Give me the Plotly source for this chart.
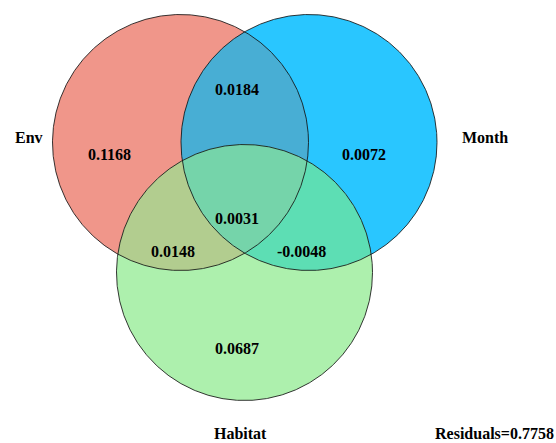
import numpy as np
import plotly.graph_objects as go

# Variance partitioning among three explanatory sets
set_names = ["Env", "Month", "Habitat"]
unique_fractions = [0.1168, 0.0072, 0.0687]
pair_sets = [("Env", "Month"), ("Env", "Habitat"), ("Month", "Habitat")]
shared_fractions = [0.0184, 0.0148, -0.0048]
common_fraction = 0.0031
residual_fraction = 0.7758

# Geometry of the diagram (pixel-like coordinates, y grows downward)
R = 128.0
centers = {"Env": (180.5, 142.5), "Month": (309.0, 142.5), "Habitat": (244.5, 272.5)}
set_colors = {"Env": "#F0968A", "Month": "#29C6FF", "Habitat": "#ADF0AD"}
pair_colors = {("Env", "Month"): "#48AED4", ("Env", "Habitat"): "#B2CD8F",
               ("Month", "Habitat"): "#5DDEB4"}
common_color = "#75D4AA"

set_label_pos = {"Env": (29, 137), "Month": (485, 137), "Habitat": (240, 433)}
unique_pos = {"Env": (109, 154), "Month": (364, 154), "Habitat": (237, 348)}
pair_pos = {("Env", "Month"): (237, 89), ("Env", "Habitat"): (173, 251),
            ("Month", "Habitat"): (301, 251)}
common_pos = (237, 218)


def circle_xy(name, n=720):
    cx, cy = centers[name]
    t = np.linspace(0, 2 * np.pi, n)
    return cx + R * np.cos(t), cy + R * np.sin(t)


def intersection_xy(names, n=4000):
    """Outline of the (convex) intersection of several circles."""
    pts = []
    t = np.linspace(0, 2 * np.pi, n, endpoint=False)
    for nm in names:
        cx, cy = centers[nm]
        x = cx + R * np.cos(t)
        y = cy + R * np.sin(t)
        keep = np.ones_like(x, dtype=bool)
        for other in names:
            if other == nm:
                continue
            ox, oy = centers[other]
            keep &= (x - ox) ** 2 + (y - oy) ** 2 <= R ** 2 + 1e-6
        pts.append(np.column_stack([x[keep], y[keep]]))
    pts = np.vstack(pts)
    c = pts.mean(axis=0)
    order = np.argsort(np.arctan2(pts[:, 1] - c[1], pts[:, 0] - c[0]))
    pts = pts[order]
    pts = np.vstack([pts, pts[:1]])
    return pts[:, 0], pts[:, 1]


fig = go.Figure()

# Filled areas: whole sets, then pairwise overlaps, then the common core
for nm in set_names:
    x, y = circle_xy(nm)
    fig.add_trace(go.Scatter(x=x, y=y, mode="lines", fill="toself",
                             fillcolor=set_colors[nm], line=dict(width=0),
                             hoverinfo="skip"))
for pr in pair_sets:
    x, y = intersection_xy(pr)
    fig.add_trace(go.Scatter(x=x, y=y, mode="lines", fill="toself",
                             fillcolor=pair_colors[pr], line=dict(width=0),
                             hoverinfo="skip"))
x, y = intersection_xy(set_names)
fig.add_trace(go.Scatter(x=x, y=y, mode="lines", fill="toself",
                         fillcolor=common_color, line=dict(width=0),
                         hoverinfo="skip"))

# Circle outlines
for nm in set_names:
    x, y = circle_xy(nm)
    fig.add_trace(go.Scatter(x=x, y=y, mode="lines",
                             line=dict(color="rgba(20,20,20,0.85)", width=1),
                             hoverinfo="skip"))

font = dict(family="Liberation Serif, Times New Roman, serif", size=16, color="black")


def label(xy, text, anchor="center"):
    fig.add_annotation(x=xy[0], y=xy[1], text=f"<b>{text}</b>", showarrow=False,
                       xanchor=anchor, yanchor="middle", font=font)


for nm, v in zip(set_names, unique_fractions):
    label(set_label_pos[nm], nm)
    label(unique_pos[nm], f"{v:.4f}")
for pr, v in zip(pair_sets, shared_fractions):
    label(pair_pos[pr], f"{v:.4f}")
label(common_pos, f"{common_fraction:.4f}")
label((556, 433), f"Residuals={residual_fraction:.4f}", anchor="right")

fig.update_layout(
    width=556, height=443, margin=dict(l=0, r=0, t=0, b=0),
    plot_bgcolor="white", paper_bgcolor="white", showlegend=False,
    xaxis=dict(range=[0, 556], visible=False, fixedrange=True),
    yaxis=dict(range=[443, 0], visible=False, fixedrange=True),
)

fig.write_html("out.html")
